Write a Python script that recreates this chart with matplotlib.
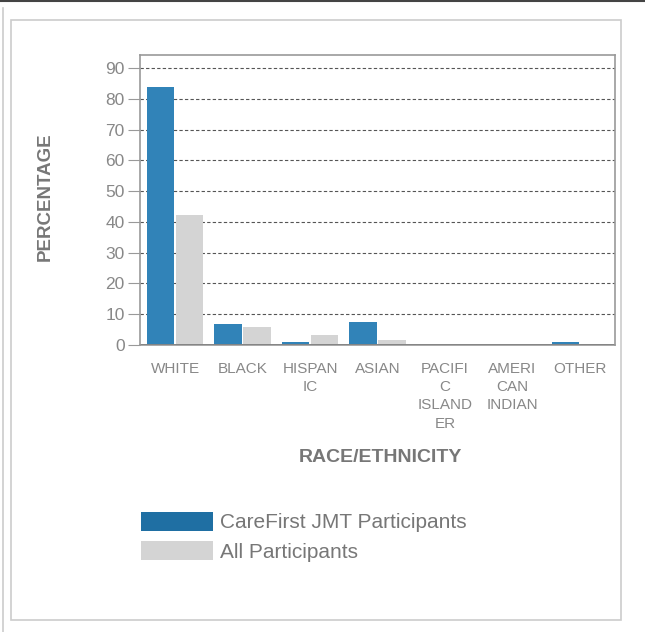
import matplotlib
matplotlib.use("Agg")
import matplotlib.pyplot as plt
import numpy as np
from matplotlib.patches import Rectangle, Patch
from matplotlib.lines import Line2D

categories = ["WHITE", "BLACK", "HISPAN\nIC", "ASIAN", "PACIFI\nC\nISLAND\nER", "AMERI\nCAN\nINDIAN", "OTHER"]
carefirst = [83.7, 6.9, 1.0, 7.6, 0.0, 0.0, 1.0]
all_participants = [42.2, 5.7, 3.2, 1.7, 0.0, 0.0, 0.3]
yticks = [0, 10, 20, 30, 40, 50, 60, 70, 80, 90]
series_names = ["CareFirst JMT Participants", "All Participants"]

BLUE = "#3183B8"
LEG_BLUE = "#1F6FA3"
GRAY = "#D4D4D4"
TXT = "#777777"

plt.rcParams['font.family'] = ['Liberation Sans', 'DejaVu Sans']

W, H = 645, 632
fig = plt.figure(figsize=(W/100, H/100), dpi=100)

# outer decorations
fig.add_artist(Rectangle((11/W, 1-620/H), (621-11)/W, (620-20)/H, transform=fig.transFigure,
                         fill=False, edgecolor="#cccccc", linewidth=1.2))
fig.add_artist(Line2D([0, 1], [1-0.8/H, 1-0.8/H], transform=fig.transFigure, color="#444444", linewidth=1.5))
fig.add_artist(Line2D([3/W, 3/W], [0, 1-8/H], transform=fig.transFigure, color="#cccccc", linewidth=1.2))

ax = fig.add_axes([140/W, 1-345/H, (615-140)/W, (345-55)/H])
x = np.arange(len(categories))
bw = 0.41
ax.bar(x - 0.215, carefirst, bw, color=BLUE, zorder=1, label=series_names[0])
ax.bar(x + 0.215, all_participants, bw, color=GRAY, zorder=1, label=series_names[1])

ax.set_xlim(-0.52, len(categories) - 0.48)
ax.set_ylim(0, 94.2)
ax.set_yticks(yticks)
ax.set_yticklabels([str(v) for v in yticks], fontsize=12.5, color="#888888")
for v in yticks[1:]:
    ax.axhline(v, color="#555555", linestyle=(0, (3, 2)), linewidth=0.8, zorder=0)
ax.axhline(0, color="#111111", linewidth=2, zorder=2)

ax.set_xticks(x)
ax.set_xticklabels(categories, fontsize=11, color="#888888", linespacing=1.4, va="top")
ax.tick_params(axis="x", length=0, pad=12)
ax.tick_params(axis="y", length=9, color="#999999", width=0.8, pad=2)
for s in ax.spines.values():
    s.set_color("#999999")
    s.set_linewidth(1.2)

fig.text(45/W, 1-197/H, "PERCENTAGE", fontsize=13.5, fontweight="bold", color=TXT,
         rotation=90, ha="center", va="center")
fig.text(380/W, 1-458/H, "RACE/ETHNICITY", fontsize=14, fontweight="bold", color=TXT,
         ha="center", va="center")

handles = [Patch(facecolor=LEG_BLUE, edgecolor="none"), Patch(facecolor=GRAY, edgecolor="none")]
leg = fig.legend(handles, series_names, loc="upper left", bbox_to_anchor=(141/W, 1-512/H),
                 frameon=False, fontsize=15, handlelength=3.45, handleheight=1.0,
                 handletextpad=0.35, labelspacing=0.42, borderaxespad=0, borderpad=0.0)
for t in leg.get_texts():
    t.set_color(TXT)

fig.savefig("out.png", dpi=100, facecolor="white")
